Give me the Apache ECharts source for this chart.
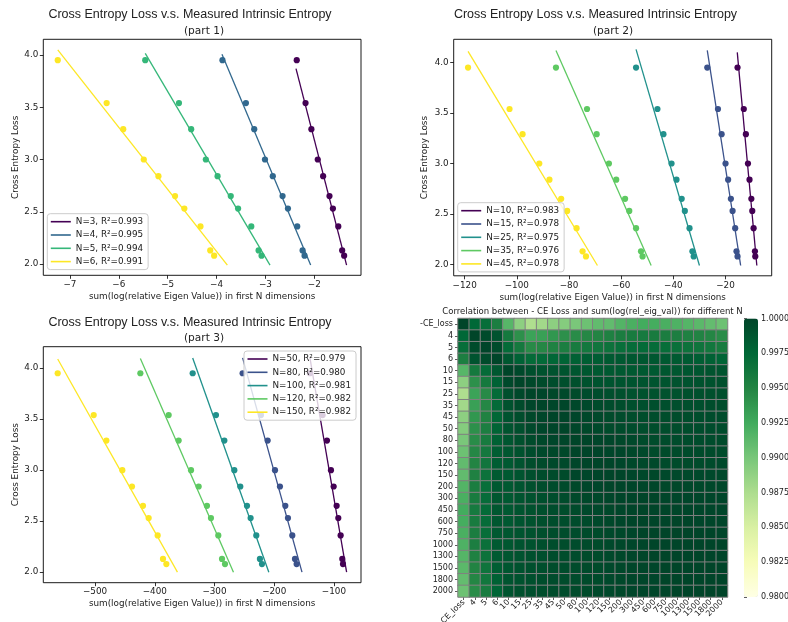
<!DOCTYPE html>
<html><head><meta charset="utf-8">
<script src="https://cdn.jsdelivr.net/npm/echarts@6/dist/echarts.min.js"></script>
<style>html,body{margin:0;padding:0;background:#fff}#c{width:788px;height:622px}</style>
</head><body><div id="c"></div>
<script>
// ---------- shared y values (cross entropy loss) ----------
const ceLoss = [3.95, 3.54, 3.29, 3.00, 2.84, 2.65, 2.53, 2.36, 2.13, 2.08];

// ---------- part 1 ----------
const p1Names = ['N=3, R²=0.993', 'N=4, R²=0.995', 'N=5, R²=0.994', 'N=6, R²=0.991'];
const p1Colors = ['#440154', '#31688e', '#35b779', '#fde725'];
const p1X = [
  [-2.36, -2.18, -2.06, -1.93, -1.82, -1.69, -1.62, -1.51, -1.43, -1.39],
  [-3.88, -3.40, -3.23, -3.01, -2.85, -2.65, -2.54, -2.35, -2.24, -2.20],
  [-5.46, -4.77, -4.52, -4.22, -3.98, -3.71, -3.56, -3.29, -3.14, -3.08],
  [-7.25, -6.25, -5.91, -5.49, -5.19, -4.85, -4.66, -4.33, -4.13, -4.05]
];
const p1Fit = [
  [[-2.375, 3.87], [-1.34, 1.99]],
  [[-3.89, 4.006], [-2.075, 1.99]],
  [[-5.46, 4.016], [-2.907, 1.99]],
  [[-7.25, 4.048], [-3.78, 1.99]]
];
const p1XTicks = [-7, -6, -5, -4, -3, -2];

// ---------- part 2 ----------
const p2Names = ['N=10, R²=0.983', 'N=15, R²=0.978', 'N=25, R²=0.975', 'N=35, R²=0.976', 'N=45, R²=0.978'];
const p2Colors = ['#440154', '#3b528b', '#21918c', '#5ec962', '#fde725'];
const p2X = [
  [-15.4, -13.0, -12.2, -11.4, -10.8, -10.1, -9.75, -9.24, -8.73, -8.6],
  [-27.0, -22.9, -21.5, -20.0, -19.0, -17.95, -17.3, -16.3, -15.8, -15.4],
  [-54.3, -46.1, -43.8, -40.7, -38.8, -36.8, -35.6, -33.8, -32.7, -32.2],
  [-85.0, -73.1, -69.4, -64.7, -61.9, -58.5, -56.9, -54.3, -52.4, -51.8],
  [-118.7, -102.8, -97.8, -91.4, -87.5, -83.0, -80.7, -77.1, -74.8, -73.5]
];
const p2Fit = [
  [[-15.5, 4.10], [-8.0, 1.99]],
  [[-27.0, 4.12], [-14.2, 1.99]],
  [[-54.3, 4.13], [-30.0, 1.99]],
  [[-85.0, 4.12], [-48.5, 1.99]],
  [[-118.7, 4.11], [-69.1, 1.99]]
];
const p2XTicks = [-120, -100, -80, -60, -40, -20];

// ---------- part 3 ----------
const p3Names = ['N=50, R²=0.979', 'N=80, R²=0.980', 'N=100, R²=0.981', 'N=120, R²=0.982', 'N=150, R²=0.982'];
const p3Colors = ['#440154', '#3b528b', '#21918c', '#5ec962', '#fde725'];
const p3X = [
  [-140.2, -118.9, -111.7, -105.0, -100.5, -95.5, -92.7, -88.8, -86.0, -84.9],
  [-252.9, -222.2, -211.0, -198.7, -190.4, -181.4, -177.0, -169.7, -165.2, -162.5],
  [-336.5, -297.5, -283.5, -266.8, -256.8, -245.6, -239.5, -230.0, -223.9, -220.5],
  [-424.1, -376.7, -360.0, -339.3, -326.5, -312.6, -305.9, -293.6, -287.4, -282.4],
  [-562.5, -502.2, -481.0, -454.3, -438.1, -419.7, -410.2, -395.1, -386.2, -380.6]
];
const p3Fit = [
  [[-140.2, 4.10], [-78.8, 2.0]],
  [[-252.9, 4.10], [-153.5, 2.0]],
  [[-336.5, 4.10], [-209.0, 2.0]],
  [[-424.1, 4.095], [-268.2, 2.0]],
  [[-562.5, 4.09], [-362.0, 2.0]]
];
const p3XTicks = [-500, -400, -300, -200, -100];
const yTicks = [2.0, 2.5, 3.0, 3.5, 4.0];

// ---------- heatmap (upper triangle, row i from column i) ----------
const hmLabels = ['-CE_loss', '4', '5', '6', '10', '15', '25', '35', '45', '50', '80', '100', '120', '150', '200', '300', '450', '600', '750', '1000', '1300', '1500', '1800', '2000'];
const hmUpper = [
  [1.0000, 0.9975, 0.9970, 0.9955, 0.9915, 0.9890, 0.9874, 0.9880, 0.9890, 0.9894, 0.9899, 0.9905, 0.9910, 0.9910, 0.9917, 0.9921, 0.9924, 0.9923, 0.9921, 0.9919, 0.9916, 0.9913, 0.9909, 0.9905],
  [1.0, 0.9996, 0.9990, 0.9960, 0.9942, 0.9930, 0.9932, 0.9938, 0.9942, 0.9945, 0.9948, 0.9950, 0.9953, 0.9956, 0.9958, 0.9959, 0.9958, 0.9956, 0.9955, 0.9953, 0.9951, 0.9949, 0.9945],
  [1.0, 0.9996, 0.9972, 0.9960, 0.9946, 0.9948, 0.9952, 0.9955, 0.9958, 0.9961, 0.9963, 0.9966, 0.9969, 0.9971, 0.9972, 0.9971, 0.9970, 0.9968, 0.9966, 0.9964, 0.9962, 0.9958],
  [1.0, 0.9987, 0.9979, 0.9972, 0.9973, 0.9976, 0.9978, 0.9980, 0.9982, 0.9983, 0.9985, 0.9986, 0.9987, 0.9987, 0.9987, 0.9986, 0.9985, 0.9984, 0.9982, 0.9980, 0.9977],
  [1.0, 0.9997, 0.9993, 0.9991, 0.9990, 0.9989, 0.9988, 0.9987, 0.9986, 0.9986, 0.9986, 0.9986, 0.9986, 0.9986, 0.9987, 0.9987, 0.9988, 0.9988, 0.9989, 0.9989],
  [1.0, 0.9998, 0.9996, 0.9994, 0.9993, 0.9992, 0.9991, 0.9990, 0.9989, 0.9989, 0.9989, 0.9989, 0.9989, 0.9989, 0.9990, 0.9990, 0.9991, 0.9991, 0.9992],
  [1.0, 0.9999, 0.9998, 0.9997, 0.9996, 0.9995, 0.9994, 0.9993, 0.9992, 0.9991, 0.9991, 0.9991, 0.9991, 0.9991, 0.9992, 0.9992, 0.9992, 0.9993],
  [1.0, 0.9999, 0.9999, 0.9998, 0.9997, 0.9996, 0.9995, 0.9994, 0.9993, 0.9993, 0.9993, 0.9993, 0.9993, 0.9993, 0.9993, 0.9994, 0.9994],
  [1.0, 1.0, 0.9999, 0.9998, 0.9997, 0.9996, 0.9995, 0.9994, 0.9994, 0.9994, 0.9994, 0.9994, 0.9994, 0.9994, 0.9995, 0.9995],
  [1.0, 0.9999, 0.9998, 0.9997, 0.9996, 0.9996, 0.9995, 0.9994, 0.9994, 0.9994, 0.9994, 0.9994, 0.9995, 0.9995, 0.9995],
  [1.0, 1.0, 0.9999, 0.9999, 0.9998, 0.9997, 0.9996, 0.9995, 0.9995, 0.9995, 0.9995, 0.9995, 0.9995, 0.9996],
  [1.0, 1.0, 0.9999, 0.9999, 0.9998, 0.9997, 0.9996, 0.9996, 0.9996, 0.9996, 0.9996, 0.9996, 0.9996],
  [1.0, 1.0, 0.9999, 0.9998, 0.9997, 0.9997, 0.9996, 0.9996, 0.9996, 0.9996, 0.9996, 0.9997],
  [1.0, 1.0, 0.9999, 0.9998, 0.9998, 0.9997, 0.9997, 0.9997, 0.9997, 0.9997, 0.9997],
  [1.0, 1.0, 0.9999, 0.9999, 0.9998, 0.9998, 0.9998, 0.9998, 0.9998, 0.9998],
  [1.0, 1.0, 1.0, 0.9999, 0.9999, 0.9999, 0.9999, 0.9999, 0.9999],
  [1.0, 1.0, 1.0, 0.9999, 0.9999, 0.9999, 0.9999, 0.9999],
  [1.0, 1.0, 1.0, 1.0, 0.9999, 0.9999, 0.9999],
  [1.0, 1.0, 1.0, 1.0, 1.0, 0.9999],
  [1.0, 1.0, 1.0, 1.0, 1.0],
  [1.0, 1.0, 1.0, 1.0],
  [1.0, 1.0, 1.0],
  [1.0, 1.0],
  [1.0]
];
const cbMin = 0.98, cbMax = 1.0, cbStep = 0.0025;
const ylGn = ['#ffffe5', '#f7fcb9', '#d9f0a3', '#addd8e', '#78c679', '#41ab5d', '#238443', '#006837', '#004529'];

// ---------- build ----------
const TXT = '#222';
const DV = 'DejaVu Sans';
const minus = v => (v < 0 ? '\u2212' : '') + String(Math.abs(v));

const grids = [
  {left: 43.3, top: 39.3, width: 317.7, height: 236},
  {left: 453.7, top: 39.3, width: 318, height: 236.5},
  {left: 43.3, top: 346.7, width: 317.7, height: 236},
  {left: 458, top: 318.5, width: 269.5, height: 278.5},
  {left: 744, top: 318.5, width: 14, height: 278.5}
].map((g, i) => Object.assign({outerBoundsMode: 'none', containLabel: false,
  show: i < 3, borderColor: '#000', borderWidth: 0.9, backgroundColor: 'transparent'}, g));

const xRanges = [[-7.546, -1.045], [-124.2, -2.3], [-586.6, -54.7]];
const yRanges = [[1.892, 4.150], [1.888, 4.230], [1.897, 4.210]];
const xTicksAll = [p1XTicks, p2XTicks, p3XTicks];
const xName = 'sum(log(relative Eigen Value)) in first N dimensions';

const xAxes = [], yAxes = [];
for (let i = 0; i < 3; i++) {
  xAxes.push({type: 'value', gridIndex: i, min: xRanges[i][0], max: xRanges[i][1],
    splitLine: {show: false}, axisLine: {show: false},
    axisTick: {show: true, length: 3.5, customValues: xTicksAll[i], lineStyle: {color: '#000', width: 0.8}},
    axisLabel: {customValues: xTicksAll[i], formatter: minus, fontSize: 8.8, fontFamily: DV, color: TXT, margin: 5},
    name: xName, nameLocation: 'middle', nameGap: 17,
    nameTextStyle: {fontSize: 8.8, fontFamily: DV, color: TXT}});
  yAxes.push({type: 'value', gridIndex: i, min: yRanges[i][0], max: yRanges[i][1],
    splitLine: {show: false}, axisLine: {show: false},
    axisTick: {show: true, length: 3.5, customValues: yTicks, lineStyle: {color: '#000', width: 0.8}},
    axisLabel: {customValues: yTicks, formatter: v => v.toFixed(1), fontSize: 8.8, fontFamily: DV, color: TXT, margin: 5},
    name: 'Cross Entropy Loss', nameLocation: 'middle', nameGap: i === 1 ? 24 : 23,
    nameTextStyle: {fontSize: 8.8, fontFamily: DV, color: TXT}});
}
// heatmap axes
xAxes.push({type: 'category', gridIndex: 3, data: hmLabels, position: 'bottom',
  axisLine: {show: false}, splitLine: {show: false},
  axisTick: {show: true, alignWithLabel: true, length: 3, lineStyle: {color: '#333', width: 0.8}},
  axisLabel: {interval: 0, rotate: 45, fontSize: 8, fontFamily: DV, color: TXT, margin: 4}});
yAxes.push({type: 'category', gridIndex: 3, data: hmLabels, inverse: true,
  axisLine: {show: false}, splitLine: {show: false},
  axisTick: {show: true, alignWithLabel: true, length: 3, lineStyle: {color: '#333', width: 0.8}},
  axisLabel: {interval: 0, fontSize: 8, fontFamily: DV, color: TXT, margin: 5}});
// colorbar axes
xAxes.push({type: 'value', gridIndex: 4, show: false, min: 0, max: 1});
yAxes.push({type: 'value', gridIndex: 4, position: 'right', min: cbMin, max: cbMax, interval: cbStep,
  axisLine: {show: false}, splitLine: {show: false},
  axisTick: {show: true, length: 3, lineStyle: {color: '#333', width: 0.8}},
  axisLabel: {formatter: v => v.toFixed(4), fontSize: 8, fontFamily: DV, color: TXT, margin: 3}});

const series = [];
function addPanel(idx, names, colors, xs, fits) {
  names.forEach((n, k) => {
    series.push({type: 'scatter', name: '_pts_' + n, xAxisIndex: idx, yAxisIndex: idx,
      symbolSize: 6.2, itemStyle: {color: colors[k], opacity: 1}, z: 2, silent: true,
      data: xs[k].map((x, j) => [x, ceLoss[j]])});
  });
  names.forEach((n, k) => {
    series.push({type: 'line', name: n, xAxisIndex: idx, yAxisIndex: idx,
      showSymbol: false, symbol: 'none', z: 3, silent: true,
      lineStyle: {color: colors[k], width: 1.3}, itemStyle: {color: colors[k]},
      data: fits[k]});
  });
}
addPanel(0, p1Names, p1Colors, p1X, p1Fit);
addPanel(1, p2Names, p2Colors, p2X, p2Fit);
addPanel(2, p3Names, p3Colors, p3X, p3Fit);

const hmData = [];
hmUpper.forEach((row, i) => {
  row.forEach((v, d) => {
    const j = i + d;
    hmData.push([j, i, v]);
    if (j !== i) hmData.push([i, j, v]);
  });
});
const hmIndex = series.length;
series.push({type: 'heatmap', xAxisIndex: 3, yAxisIndex: 3, data: hmData, silent: true,
  itemStyle: {borderColor: '#808080', borderWidth: 1}, emphasis: {disabled: true}});

function legendFor(names, left, top) {
  return {data: names, orient: 'vertical', left: left, top: top, icon: 'rect',
    itemWidth: 20, itemHeight: 1.6, itemGap: 3.3, padding: [3, 5, 3, 3.5],
    backgroundColor: 'rgba(255,255,255,0.8)', borderColor: '#cccccc', borderWidth: 1, borderRadius: 3,
    selectedMode: false, z: 10,
    textStyle: {fontSize: 8.8, fontFamily: DV, color: TXT, lineHeight: 10}};
}

function title(text, x, y, size, family) {
  return {type: 'text', x: x, y: y, silent: true,
    style: {text: text, fill: TXT, fontSize: size, fontFamily: family, align: 'center', verticalAlign: 'middle'}};
}
const mainTitle = 'Cross Entropy Loss v.s. Measured Intrinsic Entropy';
const graphics = [
  title(mainTitle, 190, 15, 12.5, 'Liberation Sans'),
  title('(part 1)', 204, 31, 10.6, DV),
  title(mainTitle, 595.5, 15, 12.5, 'Liberation Sans'),
  title('(part 2)', 613, 31, 10.6, DV),
  title(mainTitle, 190, 322.7, 12.5, 'Liberation Sans'),
  title('(part 3)', 204, 338.3, 10.6, DV),
  title('Correlation between - CE Loss and sum(log(rel_eig_val)) for different N', 592.5, 312, 8.5, DV)
];

const option = {
  animation: false,
  backgroundColor: '#fff',
  grid: grids,
  xAxis: xAxes,
  yAxis: yAxes,
  series: series,
  legend: [
    legendFor(p1Names, 47.3, 213.7),
    legendFor(p2Names, 457.7, 202.7),
    legendFor(p3Names, 244, 351)
  ],
  visualMap: [{type: 'continuous', min: cbMin, max: cbMax, seriesIndex: hmIndex, dimension: 2,
    inRange: {color: ylGn}, left: 744, top: 318.5, itemWidth: 14, itemHeight: 278.5,
    calculable: false, hoverLink: false, padding: 0, orient: 'vertical', show: true}],
  graphic: graphics
};
const chart = echarts.init(document.getElementById('c'), null, {renderer: 'canvas'});
chart.setOption(option);
</script>
</body></html>
